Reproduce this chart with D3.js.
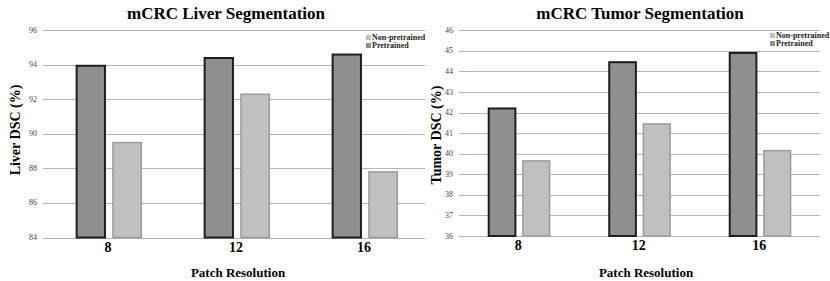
<!DOCTYPE html>
<html lang="en">
<head>
    <meta charset="UTF-8">
    <title>mCRC Segmentation</title>
    <style>
        body { margin: 0; background: #fff; }
        svg { display: block; }
        svg text { font-family: 'Liberation Serif', 'Times New Roman', 'DejaVu Serif', serif; }
    </style>
    <script src="https://d3js.org/d3.v7.min.js"></script>
</head>
<body>
    <div id="svg"></div>
    <script>
        const categories = ["8", "12", "16"]
        const seriesNames = ["Pretrained", "Non-pretrained"]

        const liverPretrained = [93.95, 94.4, 94.6]
        const liverNonPretrained = [89.5, 92.3, 87.8]
        const liverTicks = [84, 86, 88, 90, 92, 94, 96]

        const tumorPretrained = [42.2, 44.45, 44.9]
        const tumorNonPretrained = [39.65, 41.45, 40.15]
        const tumorTicks = [36, 37, 38, 39, 40, 41, 42, 43, 44, 45, 46]

        const barFill = { "Pretrained": "#8f8f8f", "Non-pretrained": "#c0c0c0" }
        const barStroke = { "Pretrained": "#1e1e1e", "Non-pretrained": "#9a9a9a" }

        const svg = d3.select("#svg").append("svg").attr("width", 830).attr("height", 281)

        function drawPanel(p) {
            const g = svg.append("g")

            const yScale = d3.scaleLinear()
                .domain(d3.extent(p.ticks))
                .range([p.bottom, p.top])

            const xScale = d3.scaleBand()
                .domain(categories)
                .range([p.left, p.right])

            const bw = xScale.bandwidth()
            const xInner = d3.scaleBand()
                .domain(seriesNames)
                .range([bw * 0.255, bw * 0.76])
                .paddingInner(0.22)

            // grid lines
            g.selectAll(".grid").data(p.ticks).enter().append("line")
                .attr("x1", p.gridLeft).attr("x2", p.gridRight)
                .attr("y1", d => Math.round(yScale(d)) + 0.5)
                .attr("y2", d => Math.round(yScale(d)) + 0.5)
                .attr("stroke", "#b4b4b4")
                .attr("stroke-width", 1)

            // tick labels
            g.selectAll(".tick").data(p.ticks).enter().append("text")
                .attr("x", p.gridLeft - 6)
                .attr("y", d => yScale(d) + 2.5)
                .attr("text-anchor", "end")
                .attr("font-size", "8px")
                .attr("fill", "#444")
                .text(d => d)

            const rows = categories.map((c, i) => ({ cat: c, vals: [
                { s: "Pretrained", v: p.pre[i] },
                { s: "Non-pretrained", v: p.non[i] }
            ] }))

            const groups = g.selectAll(".grp").data(rows).enter().append("g")
                .attr("transform", d => `translate(${xScale(d.cat)},0)`)

            groups.selectAll("rect").data(d => d.vals).enter().append("rect")
                .attr("x", d => xInner(d.s))
                .attr("y", d => yScale(d.v))
                .attr("width", xInner.bandwidth())
                .attr("height", d => yScale.range()[0] - yScale(d.v))
                .attr("fill", d => barFill[d.s])
                .attr("stroke", d => barStroke[d.s])
                .attr("stroke-width", d => d.s === "Pretrained" ? 2 : 1.5)

            // category labels
            g.selectAll(".cat").data(categories).enter().append("text")
                .attr("x", d => xScale(d) + bw / 2)
                .attr("y", p.bottom + 14)
                .attr("text-anchor", "middle")
                .attr("font-size", "14px")
                .attr("font-weight", "bold")
                .text(d => d)

            // title
            g.append("text")
                .attr("x", p.titleX).attr("y", 19)
                .attr("text-anchor", "middle")
                .attr("font-size", "17px")
                .attr("font-weight", "bold")
                .text(p.title)

            // x axis title
            g.append("text")
                .attr("x", p.xLabelX).attr("y", 277)
                .attr("text-anchor", "middle")
                .attr("font-size", "13px")
                .attr("font-weight", "bold")
                .text("Patch Resolution")

            // y axis title
            g.append("text")
                .attr("transform", `translate(${p.yLabelX},${p.yLabelY}) rotate(-90)`)
                .attr("text-anchor", "middle")
                .attr("font-size", "14px")
                .attr("font-weight", "bold")
                .text(p.yLabel)

            // legend
            const leg = g.selectAll(".legend").data(["Non-pretrained", "Pretrained"]).enter().append("g")
                .attr("transform", (d, i) => `translate(${p.legendX},${p.legendY + i * 8})`)
            leg.append("rect")
                .attr("x", 0).attr("y", -5)
                .attr("width", 5).attr("height", 5)
                .attr("fill", d => barFill[d])
            leg.append("text")
                .attr("x", 6).attr("y", 0)
                .attr("font-size", "8px")
                .attr("font-weight", "bold")
                .attr("fill", "#222")
                .text(d => d)
        }

        drawPanel({
            title: "mCRC Liver Segmentation", yLabel: "Liver DSC (%)",
            pre: liverPretrained, non: liverNonPretrained, ticks: liverTicks,
            left: 44, right: 428, gridLeft: 43, gridRight: 425,
            top: 30.4, bottom: 237.5,
            titleX: 226, xLabelX: 238, yLabelX: 20, yLabelY: 130,
            legendX: 366, legendY: 40
        })

        drawPanel({
            title: "mCRC Tumor Segmentation", yLabel: "Tumor DSC (%)",
            pre: tumorPretrained, non: tumorNonPretrained, ticks: tumorTicks,
            left: 458, right: 819.5, gridLeft: 459, gridRight: 820,
            top: 30.3, bottom: 236,
            titleX: 640, xLabelX: 646, yLabelX: 441, yLabelY: 135,
            legendX: 770, legendY: 38
        })
    </script>
</body>
</html>
